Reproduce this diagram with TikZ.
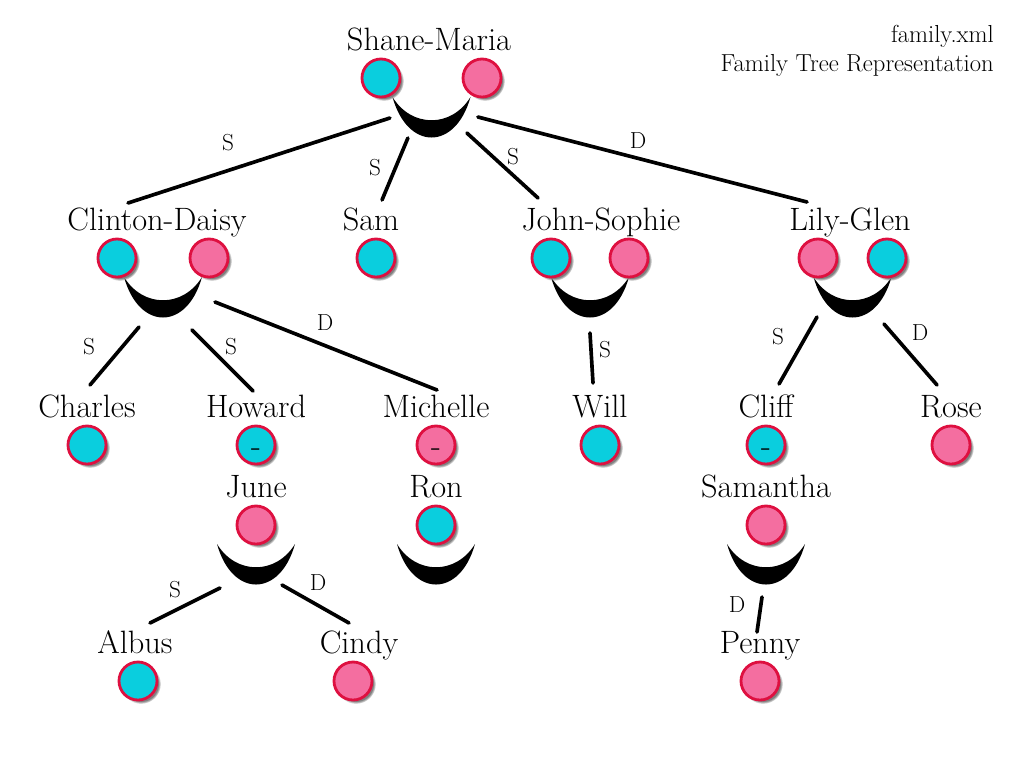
\documentclass[tikz,border=0pt]{standalone}
\usetikzlibrary{calc,shadows,backgrounds}
\definecolor{boyfill}{RGB}{10,206,222}
\definecolor{girlfill}{RGB}{244,110,160}
\definecolor{rim}{RGB}{222,16,64}
\tikzstyle{who} = [font=\fontsize{23}{27}\selectfont, text height=14pt, text depth=4pt, inner sep=0pt]
\tikzstyle{heading} = [font=\fontsize{17.5}{20}\selectfont, inner sep=0pt]
\tikzstyle{rel} = [font=\fontsize{16.5}{19}\selectfont, inner sep=0pt]
\tikzstyle{boy} = [circle, minimum size=0.95cm, inner sep=0pt, draw=rim, line width=2pt, fill=boyfill, font=\fontsize{23}{27}\selectfont, circular drop shadow={shadow xshift=2pt, shadow yshift=-2pt, shadow scale=1.05}]
\tikzstyle{girl} = [boy, fill=girlfill]
\tikzstyle{link} = [line width=2.6pt, line cap=round]
\newcommand{\grin}[1]{\fill [shift={(#1)}] (-39,19) .. controls (-24,73) and (24,73) .. (39,19) .. controls (20,50) and (-20,50) .. cycle;}
\newcommand{\nodash}{\raisebox{-8pt}[0pt][0pt]{-}}

\begin{document}
\begin{tikzpicture}[x=0.025cm, y=-0.025cm, node distance=0.875cm]
  \useasboundingbox (0,0) rectangle (1024,768);

  \node (file) [heading, anchor=base east] at (994,43) {family.xml};
  \node (caption) [heading, anchor=base east] at (994,72) {Family Tree Representation};

  % names
  \node (shanemaria) [who] at (429,43) {Shane-Maria};
  \node (clintondaisy) [who] at (157,223) {Clinton-Daisy};
  \node (sam) [who] at (371,223) {Sam};
  \node (johnsophie) [who] at (601,223) {John-Sophie};
  \node (lilyglen) [who] at (850,223) {Lily-Glen};
  \node (charles) [who] at (87,410) {Charles};
  \node (howard) [who] at (256,410) {Howard};
  \node (michelle) [who] at (436,410) {Michelle};
  \node (will) [who] at (600,410) {Will};
  \node (cliff) [who] at (766,410) {Cliff};
  \node (rose) [who] at (951,410) {Rose};
  \node (june) [who] at (256,490) {June};
  \node (ron) [who] at (436,490) {Ron};
  \node (samantha) [who] at (766,490) {Samantha};
  \node (albus) [who] at (135,646) {Albus};
  \node (cindy) [who] at (359,646) {Cindy};
  \node (penny) [who] at (760,646) {Penny};

  % people
  \node (shane) [boy, below of=shanemaria, xshift=-1.2cm] {};
  \node (maria) [girl, below of=shanemaria, xshift=1.325cm] {};
  \node (clinton) [boy, below of=clintondaisy, xshift=-1cm] {};
  \node (daisy) [girl, below of=clintondaisy, xshift=1.3cm] {};
  \node (samdot) [boy, below of=sam, xshift=0.125cm] {};
  \node (john) [boy, below of=johnsophie, xshift=-1.25cm] {};
  \node (sophie) [girl, below of=johnsophie, xshift=0.7cm] {};
  \node (lily) [girl, below of=lilyglen, xshift=-0.8cm] {};
  \node (glen) [boy, below of=lilyglen, xshift=0.925cm] {};
  \node (charlesdot) [boy, below of=charles] {};
  \node (howarddot) [boy, below of=howard] {\nodash};
  \node (michelledot) [girl, below of=michelle] {\nodash};
  \node (willdot) [boy, below of=will] {};
  \node (cliffdot) [boy, below of=cliff] {\nodash};
  \node (rosedot) [girl, below of=rose] {};
  \node (junedot) [girl, below of=june] {};
  \node (rondot) [boy, below of=ron] {};
  \node (samanthadot) [girl, below of=samantha] {};
  \node (albusdot) [boy, below of=albus, xshift=0.075cm] {};
  \node (cindydot) [girl, below of=cindy, xshift=-0.15cm] {};
  \node (pennydot) [girl, below of=penny] {};

  \coordinate (g-sm) at ($(shane)!.5!(maria)$);
  \coordinate (g-cd) at ($(clinton)!.5!(daisy)$);
  \coordinate (g-js) at ($(john)!.5!(sophie)$);
  \coordinate (g-lg) at ($(lily)!.5!(glen)$);

  \begin{scope}[on background layer]
    \grin{g-sm} \grin{g-cd} \grin{g-js} \grin{g-lg}
    \grin{junedot} \grin{rondot} \grin{samanthadot}
  \end{scope}

  % children
  \draw [link] ([shift={(-41.6,40)}]g-sm) -- ([shift={(-29,-20)}]clintondaisy.center) node [rel] at (228,143) {S};
  \draw [link] ([shift={(-23.6,60)}]g-sm) -- ([shift={(11,-23)}]sam.center) node [rel] at (375,168) {S};
  \draw [link] ([shift={(35.4,55)}]g-sm) -- ([shift={(-63,-25)}]johnsophie.center) node [rel] at (513,157) {S};
  \draw [link] ([shift={(46.4,39)}]g-sm) -- ([shift={(-43,-21)}]lilyglen.center) node [rel] at (638,141) {D};

  \draw [link] ([shift={(-24,69)}]g-cd) -- ([shift={(3,-25)}]charles.center) node [rel] at (89,347) {S};
  \draw [link] ([shift={(29,72)}]g-cd) -- ([shift={(-3,-19)}]howard.center) node [rel] at (231,347) {S};
  \draw [link] ([shift={(52,44)}]g-cd) -- ([shift={(1,-20)}]michelle.center) node [rel] at (325,323) {D};

  \draw [link] ([shift={(0,75)}]g-js) -- ([shift={(-7,-27)}]will.center) node [rel] at (605,350) {S};

  \draw [link] ([shift={(-35.5,59)}]g-lg) -- ([shift={(13,-26)}]cliff.center) node [rel] at (778,337) {S};
  \draw [link] ([shift={(31.5,66)}]g-lg) -- ([shift={(-14,-25)}]rose.center) node [rel] at (920,333) {D};

  \draw [link] ([shift={(-36,63)}]junedot.center) -- ([shift={(15,-23)}]albus.center) node [rel] at (175,590) {S};
  \draw [link] ([shift={(26,60)}]junedot.center) -- ([shift={(-10,-23)}]cindy.center) node [rel] at (318,583) {D};

  \draw [link] ([shift={(-4,72)}]samanthadot.center) -- ([shift={(-3,-14)}]penny.center) node [rel] at (737,605) {D};
\end{tikzpicture}
\end{document}
